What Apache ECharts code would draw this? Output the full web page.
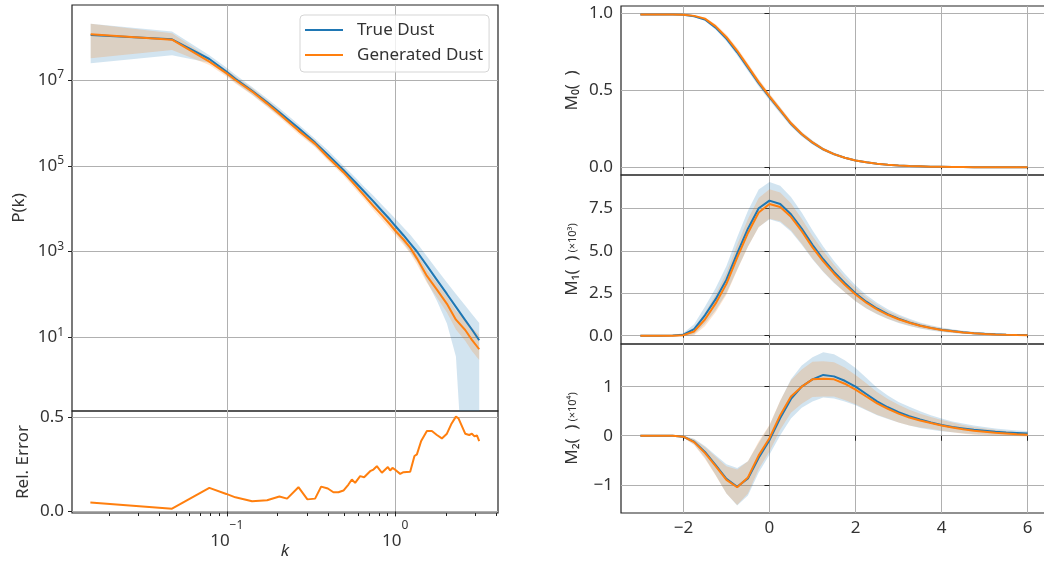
<!DOCTYPE html>
<html>
<head>
<meta charset="utf-8">
<title>Dust power spectrum and Minkowski functionals</title>
<script src="https://cdn.jsdelivr.net/npm/echarts@6/dist/echarts.min.js"></script>
<style>
  html, body { margin: 0; background: #fff; }
  #chart { width: 1044px; height: 562px; }
</style>
</head>
<body>
<div id="chart"></div>
<script>
/* global echarts */

const BLUE = "#1f77b4";
const ORANGE = "#ff7f0e";
const BLUE_FILL = "rgba(31,119,180,0.2)";
const ORANGE_FILL = "rgba(255,127,14,0.2)";
const GRID_COLOR = "#b0b0b0";
const SPINE_COLOR = "#222";
const TEXT_COLOR = "#333";
const FONT = "'Noto Sans', 'DejaVu Sans', sans-serif";

// power spectrum, k and log10 P(k)
const kValues = [0.01556, 0.0473, 0.0788, 0.0994, 0.1125, 0.1414, 0.1736, 0.2054, 0.2664, 0.3346,
  0.3982, 0.4929, 0.5785, 0.6542, 0.7431, 0.8338, 0.9339, 1.0, 1.12, 1.228,
  1.346, 1.543, 1.769, 2.029, 2.295, 2.606, 2.856, 3.156];
const truePkLog = [8.05, 7.95, 7.49, 7.2, 7.03, 6.75, 6.48, 6.25, 5.88, 5.54,
  5.26, 4.9, 4.62, 4.4, 4.17, 3.95, 3.74, 3.6, 3.38, 3.19,
  3.0, 2.67, 2.34, 2.01, 1.71, 1.4, 1.18, 0.93];
const truePkLoLog = [7.39, 7.58, 7.4, 7.11, 6.94, 6.66, 6.39, 6.16, 5.79, 5.45,
  5.17, 4.81, 4.52, 4.29, 4.05, 3.82, 3.59, 3.44, 3.2, 2.99,
  2.77, 2.3, 1.85, 1.32, 0.55, -3, -3, -3];
const truePkHiLog = [8.31, 8.13, 7.58, 7.29, 7.12, 6.84, 6.57, 6.34, 5.97, 5.63,
  5.36, 5.0, 4.73, 4.51, 4.3, 4.09, 3.89, 3.77, 3.56, 3.39,
  3.2, 2.89, 2.58, 2.28, 2.01, 1.74, 1.54, 1.33];
const genPkLog = [8.07, 7.94, 7.43, 7.16, 7.0, 6.73, 6.45, 6.21, 5.82, 5.51,
  5.2, 4.85, 4.55, 4.31, 4.06, 3.85, 3.63, 3.49, 3.28, 3.09,
  2.84, 2.43, 2.11, 1.78, 1.41, 1.17, 0.94, 0.72];
const genPkLoLog = [7.51, 7.7, 7.35, 7.08, 6.92, 6.65, 6.37, 6.13, 5.74, 5.43,
  5.12, 4.77, 4.46, 4.22, 3.96, 3.74, 3.52, 3.38, 3.16, 2.96,
  2.7, 2.27, 1.93, 1.58, 1.18, 0.92, 0.68, 0.47];
const genPkHiLog = [8.31, 8.09, 7.51, 7.24, 7.08, 6.81, 6.53, 6.29, 5.9, 5.59,
  5.28, 4.94, 4.64, 4.4, 4.16, 3.96, 3.74, 3.6, 3.4, 3.22,
  2.98, 2.57, 2.27, 1.96, 1.62, 1.42, 1.22, 1.05];

// relative error of the generated spectrum
const errK = [0.01549, 0.0473, 0.0788, 0.0994, 0.1125, 0.1414, 0.1736, 0.2054, 0.2282, 0.2345,
  0.2664, 0.3012, 0.3346, 0.3634, 0.3982, 0.4299, 0.4603, 0.4929, 0.5279, 0.553,
  0.5785, 0.6195, 0.6542, 0.7101, 0.7431, 0.7785, 0.8338, 0.9051, 0.9339, 0.9637,
  1.0, 1.071, 1.12, 1.228, 1.302, 1.346, 1.427, 1.543, 1.652, 1.769,
  1.894, 2.029, 2.151, 2.295, 2.377, 2.606, 2.753, 2.856, 2.959, 3.058, 3.156];
const relError = [0.048, 0.0145, 0.125, 0.093, 0.075, 0.054, 0.059, 0.079, 0.068, 0.064,
  0.129, 0.064, 0.068, 0.132, 0.122, 0.102, 0.102, 0.111, 0.143, 0.17,
  0.152, 0.188, 0.182, 0.214, 0.223, 0.241, 0.206, 0.236, 0.218, 0.232,
  0.222, 0.2, 0.209, 0.211, 0.295, 0.304, 0.375, 0.428, 0.428, 0.407,
  0.389, 0.414, 0.464, 0.505, 0.496, 0.414, 0.407, 0.414, 0.4, 0.405, 0.375];

const K_MAJOR = [0.1, 1];
const K_MINOR = [0.02, 0.03, 0.04, 0.05, 0.06, 0.07, 0.08, 0.09, 0.2, 0.3, 0.4, 0.5, 0.6, 0.7, 0.8, 0.9, 2, 3, 4];
const P_TICKS = [10, 1e3, 1e5, 1e7];

// Minkowski functionals against threshold
const threshold = [-3, -2.75, -2.5, -2.25, -2, -1.75, -1.5, -1.25, -1, -0.75, -0.5, -0.25, 0,
  0.25, 0.5, 0.75, 1, 1.25, 1.5, 1.75, 2, 2.25, 2.5, 2.75, 3, 3.25, 3.5, 3.75, 4,
  4.25, 4.5, 4.75, 5, 5.25, 5.5, 5.75, 6];
const m0True = [0.99, 0.99, 0.99, 0.99, 0.988, 0.978, 0.958, 0.905, 0.834, 0.745, 0.645, 0.545, 0.455,
  0.368, 0.282, 0.214, 0.16, 0.116, 0.085, 0.062, 0.044, 0.032, 0.023, 0.016, 0.011, 0.008, 0.006, 0.004, 0.003,
  0.002, 0.0015, 0.001, 0.001, 0.0007, 0.0005, 0.0004, 0.0003];
const m0Gen = [0.99, 0.99, 0.99, 0.99, 0.989, 0.981, 0.963, 0.913, 0.843, 0.755, 0.654, 0.552, 0.46,
  0.372, 0.285, 0.216, 0.161, 0.117, 0.085, 0.062, 0.044, 0.032, 0.023, 0.016, 0.011, 0.008, 0.006, 0.004, 0.003,
  0.002, 0.0015, 0.001, 0.001, 0.0007, 0.0005, 0.0004, 0.0003];
const m0TrueStd = [0, 0, 0, 0, 0.002, 0.005, 0.009, 0.014, 0.018, 0.02, 0.021, 0.021, 0.02,
  0.019, 0.017, 0.015, 0.013, 0.011, 0.009, 0.007, 0.006, 0.005, 0.004, 0.003, 0.002, 0.002, 0.0015, 0.001, 0.001,
  0.001, 0.001, 0.0005, 0.0005, 0.0005, 0.0005, 0.0005, 0.0005];
const m0GenStd = [0, 0, 0, 0, 0.002, 0.005, 0.008, 0.013, 0.017, 0.019, 0.02, 0.02, 0.019,
  0.018, 0.016, 0.014, 0.012, 0.01, 0.008, 0.007, 0.006, 0.005, 0.004, 0.003, 0.002, 0.002, 0.0015, 0.001, 0.001,
  0.001, 0.001, 0.0005, 0.0005, 0.0005, 0.0005, 0.0005, 0.0005];
const m1True = [0, 0, 0, 0.01, 0.06, 0.38, 1.2, 2.15, 3.3, 4.85, 6.3, 7.5, 7.95,
  7.75, 7.15, 6.3, 5.35, 4.5, 3.75, 3.1, 2.5, 2.0, 1.6, 1.27, 1.0, 0.78, 0.6, 0.46, 0.35,
  0.27, 0.2, 0.15, 0.11, 0.08, 0.06, 0.045, 0.035];
const m1Gen = [0, 0, 0, 0, 0.03, 0.25, 0.95, 1.9, 3.05, 4.6, 6.05, 7.25, 7.75,
  7.58, 7.0, 6.15, 5.2, 4.38, 3.65, 3.0, 2.42, 1.94, 1.55, 1.23, 0.97, 0.76, 0.58, 0.45, 0.34,
  0.26, 0.19, 0.14, 0.1, 0.075, 0.055, 0.04, 0.03];
const m1TrueStd = [0, 0, 0, 0.02, 0.1, 0.3, 0.5, 0.65, 0.8, 0.95, 1.05, 1.1, 1.1,
  1.08, 1.02, 0.95, 0.85, 0.75, 0.65, 0.55, 0.47, 0.4, 0.34, 0.29, 0.25, 0.21, 0.18, 0.15, 0.13,
  0.11, 0.09, 0.08, 0.07, 0.06, 0.05, 0.04, 0.035];
const m1GenStd = [0, 0, 0, 0.01, 0.06, 0.22, 0.4, 0.52, 0.64, 0.75, 0.82, 0.86, 0.87,
  0.85, 0.8, 0.74, 0.67, 0.6, 0.52, 0.44, 0.38, 0.32, 0.27, 0.23, 0.2, 0.17, 0.14, 0.12, 0.1,
  0.09, 0.07, 0.06, 0.05, 0.045, 0.04, 0.03, 0.03];
const m2True = [0, 0, 0, 0, -0.02, -0.12, -0.33, -0.6, -0.88, -1.04, -0.87, -0.45, -0.09,
  0.36, 0.75, 1.0, 1.15, 1.24, 1.21, 1.12, 1.0, 0.85, 0.7, 0.58, 0.48, 0.4, 0.33, 0.27, 0.22,
  0.18, 0.15, 0.12, 0.1, 0.08, 0.065, 0.055, 0.045];
const m2Gen = [0, 0, 0, 0, -0.02, -0.13, -0.35, -0.62, -0.9, -1.05, -0.85, -0.4, -0.05,
  0.42, 0.8, 1.0, 1.15, 1.16, 1.15, 1.06, 0.94, 0.8, 0.66, 0.55, 0.45, 0.37, 0.31, 0.26, 0.21,
  0.17, 0.13, 0.1, 0.08, 0.06, 0.045, 0.03, 0.02];
const m2TrueStd = [0, 0, 0, 0.005, 0.02, 0.06, 0.12, 0.2, 0.3, 0.38, 0.35, 0.3, 0.3,
  0.35, 0.4, 0.43, 0.45, 0.46, 0.45, 0.42, 0.38, 0.33, 0.28, 0.24, 0.21, 0.19, 0.17, 0.15, 0.13,
  0.11, 0.1, 0.09, 0.08, 0.07, 0.06, 0.05, 0.05];
const m2GenStd = [0, 0, 0, 0.005, 0.02, 0.06, 0.12, 0.19, 0.28, 0.36, 0.33, 0.28, 0.27,
  0.3, 0.33, 0.35, 0.36, 0.36, 0.35, 0.33, 0.3, 0.27, 0.23, 0.2, 0.18, 0.16, 0.14, 0.12, 0.11,
  0.1, 0.09, 0.08, 0.07, 0.06, 0.05, 0.04, 0.04];

function exponentText(value) {
  const exp = Math.round(Math.log10(value));
  return exp < 0 ? "\u2212" + Math.abs(exp) : String(exp);
}

// "10" with a raised exponent, drawn as rich text
function powLabel(value) {
  return "{b|10}{s|" + exponentText(value) + "}";
}

function signedLabel(digits) {
  return (value) => {
    const text = Math.abs(value).toFixed(digits);
    return value < 0 ? "\u2212" + text : text;
  };
}

function pow10(list) {
  return list.map((v) => Math.pow(10, v));
}

function plus(a, b, sign) {
  return a.map((v, i) => v + sign * b[i]);
}

function lineSeries(name, color, axisIndex, xs, ys) {
  return {
    name,
    type: "line",
    xAxisIndex: axisIndex[0],
    yAxisIndex: axisIndex[1],
    data: xs.map((x, i) => [x, ys[i]]),
    symbol: "none",
    showSymbol: false,
    clip: true,
    z: color === ORANGE ? 5 : 4,
    lineStyle: { color, width: 2 },
    itemStyle: { color },
  };
}

function bandSeries(fill, axisIndex, xs, lo, hi) {
  const data = xs.map((x, i) => [x, lo[i], hi[i]]);
  return {
    type: "custom",
    xAxisIndex: axisIndex[0],
    yAxisIndex: axisIndex[1],
    data,
    encode: { x: 0, y: [1, 2] },
    clip: true,
    silent: true,
    z: 2,
    renderItem(params, api) {
      if (params.dataIndex !== 0) {
        return null;
      }
      const upper = data.map((d) => api.coord([d[0], d[2]]));
      const lower = data.map((d) => api.coord([d[0], d[1]])).reverse();
      return {
        type: "polygon",
        shape: { points: upper.concat(lower) },
        style: { fill, stroke: null },
      };
    },
  };
}

const labelStyle = { color: TEXT_COLOR, fontSize: 17, fontFamily: FONT };
const splitStyle = { show: true, lineStyle: { color: GRID_COLOR, width: 1 } };
const tickStyle = { lineStyle: { color: SPINE_COLOR, width: 1 } };

function gridBox(left, top, height) {
  return {
    left, top, width: 426, height,
    outerBoundsMode: "none",
    containLabel: false,
    show: true,
    borderColor: SPINE_COLOR,
    borderWidth: 1.2,
    backgroundColor: "transparent",
  };
}

function thresholdAxis(gridIndex, withLabels) {
  return {
    gridIndex,
    type: "value",
    min: -3.45,
    max: 6.45,
    axisLine: { show: false },
    axisTick: { show: true, length: withLabels ? 5 : 2, customValues: [-2, 0, 2, 4, 6], ...tickStyle },
    axisLabel: { show: withLabels, customValues: [-2, 0, 2, 4, 6], formatter: signedLabel(0), margin: 7, ...labelStyle },
    splitLine: splitStyle,
  };
}

function mAxis(gridIndex, min, max, ticks, digits, name) {
  return {
    gridIndex,
    type: "value",
    min,
    max,
    axisLine: { show: false },
    axisTick: { show: true, length: 5, customValues: ticks, ...tickStyle },
    axisLabel: {
      customValues: ticks,
      formatter: signedLabel(digits),
      margin: 8,
      verticalAlignMinLabel: "middle",
      verticalAlignMaxLabel: "middle",
      ...labelStyle,
    },
    splitLine: splitStyle,
    name,
    nameLocation: "middle",
    nameGap: 40,
    nameRotate: 90,
    nameMoveOverlap: false,
    nameTextStyle: {
      color: TEXT_COLOR,
      fontFamily: FONT,
      rich: {
        a: { fontSize: 17, color: TEXT_COLOR, fontFamily: FONT },
        b: { fontSize: 11, color: TEXT_COLOR, fontFamily: FONT },
      },
    },
  };
}

const chart = echarts.init(document.getElementById("chart"), null, { renderer: "canvas" });

const option = {
  animation: false,
  textStyle: { fontFamily: FONT },
  grid: [
    gridBox(72, 5, 406),
    gridBox(72, 411, 102),
    gridBox(621, 6, 169),
    gridBox(621, 175, 169),
    gridBox(621, 344, 169),
  ],
  legend: {
    data: ["True Dust", "Generated Dust"],
    orient: "vertical",
    left: 300,
    top: 15,
    icon: "rect",
    itemWidth: 38,
    itemHeight: 2,
    itemGap: 5,
    padding: [5, 6, 7, 5],
    selectedMode: false,
    backgroundColor: "rgba(255,255,255,0.8)",
    borderColor: "#d5d5d5",
    borderWidth: 1,
    borderRadius: 4,
    textStyle: { ...labelStyle, lineHeight: 20, padding: [0, 0, 0, 9] },
  },
  xAxis: [
    {
      gridIndex: 0, type: "log", min: 0.01205, max: 4.08,
      axisLine: { show: false },
      axisTick: { show: false, customValues: K_MAJOR },
      axisLabel: { show: false, customValues: K_MAJOR },
      splitLine: splitStyle,
    },
    {
      gridIndex: 1, type: "log", min: 0.01205, max: 4.08, position: "bottom",
      axisLine: { show: false },
      axisTick: { show: true, length: 5, customValues: K_MAJOR, ...tickStyle },
      axisLabel: {
        customValues: K_MAJOR,
        formatter: powLabel,
        margin: 7,
        ...labelStyle,
        rich: {
          b: { fontSize: 17, lineHeight: 30, verticalAlign: "bottom", color: TEXT_COLOR, fontFamily: FONT },
          s: { fontSize: 12, lineHeight: 12, verticalAlign: "top", color: TEXT_COLOR, fontFamily: FONT },
        },
      },
      splitLine: splitStyle,
      name: "k",
      nameLocation: "middle",
      nameGap: 30,
      nameMoveOverlap: false,
      nameTextStyle: { ...labelStyle, fontStyle: "italic" },
    },
    {
      gridIndex: 1, type: "log", min: 0.01205, max: 4.08, position: "bottom",
      axisLine: { show: false },
      axisTick: { show: true, length: 3, customValues: K_MINOR, ...tickStyle },
      axisLabel: { show: false },
      splitLine: { show: false },
    },
    thresholdAxis(2, false),
    thresholdAxis(3, false),
    thresholdAxis(4, true),
  ],
  yAxis: [
    {
      gridIndex: 0, type: "log", min: 0.1905, max: 5.62e8,
      axisLine: { show: false },
      axisTick: { show: true, length: 4, customValues: P_TICKS, ...tickStyle },
      axisLabel: {
        customValues: P_TICKS,
        formatter: powLabel,
        margin: 8,
        ...labelStyle,
        rich: {
          b: { fontSize: 17, lineHeight: 22, verticalAlign: "middle", color: TEXT_COLOR, fontFamily: FONT },
          s: { fontSize: 12, lineHeight: 12, verticalAlign: "top", color: TEXT_COLOR, fontFamily: FONT },
        },
      },
      splitLine: splitStyle,
      name: "P(k)",
      nameLocation: "middle",
      nameGap: 44,
      nameMoveOverlap: false,
      nameTextStyle: labelStyle,
    },
    {
      gridIndex: 1, type: "value", min: -0.0086, max: 0.535,
      axisLine: { show: false },
      axisTick: { show: true, length: 4, customValues: [0, 0.5], ...tickStyle },
      axisLabel: {
        customValues: [0, 0.5],
        formatter: signedLabel(1),
        margin: 8,
        verticalAlignMinLabel: "middle",
        verticalAlignMaxLabel: "middle",
        ...labelStyle,
      },
      splitLine: splitStyle,
      name: "Rel. Error",
      nameLocation: "middle",
      nameGap: 40,
      nameMoveOverlap: false,
      nameTextStyle: labelStyle,
    },
    mAxis(2, -0.05, 1.045, [0, 0.5, 1], 1, "{a|M\u2080(\u2002)}"),
    mAxis(3, -0.49, 9.46, [0, 2.5, 5, 7.5], 1, "{a|M\u2081(\u2002)} {b|(\u00d710\u00b3)}"),
    mAxis(4, -1.575, 1.87, [-1, 0, 1], 0, "{a|M\u2082(\u2002)} {b|(\u00d710\u2074)}"),
  ],
  series: [
    bandSeries(BLUE_FILL, [0, 0], kValues, pow10(truePkLoLog), pow10(truePkHiLog)),
    bandSeries(ORANGE_FILL, [0, 0], kValues, pow10(genPkLoLog), pow10(genPkHiLog)),
    lineSeries("True Dust", BLUE, [0, 0], kValues, pow10(truePkLog)),
    lineSeries("Generated Dust", ORANGE, [0, 0], kValues, pow10(genPkLog)),
    lineSeries("Rel. Error", ORANGE, [1, 1], errK, relError),

    bandSeries(BLUE_FILL, [3, 2], threshold, plus(m0True, m0TrueStd, -1), plus(m0True, m0TrueStd, 1)),
    bandSeries(ORANGE_FILL, [3, 2], threshold, plus(m0Gen, m0GenStd, -1), plus(m0Gen, m0GenStd, 1)),
    lineSeries("True Dust", BLUE, [3, 2], threshold, m0True),
    lineSeries("Generated Dust", ORANGE, [3, 2], threshold, m0Gen),

    bandSeries(BLUE_FILL, [4, 3], threshold, plus(m1True, m1TrueStd, -1), plus(m1True, m1TrueStd, 1)),
    bandSeries(ORANGE_FILL, [4, 3], threshold, plus(m1Gen, m1GenStd, -1), plus(m1Gen, m1GenStd, 1)),
    lineSeries("True Dust", BLUE, [4, 3], threshold, m1True),
    lineSeries("Generated Dust", ORANGE, [4, 3], threshold, m1Gen),

    bandSeries(BLUE_FILL, [5, 4], threshold, plus(m2True, m2TrueStd, -1), plus(m2True, m2TrueStd, 1)),
    bandSeries(ORANGE_FILL, [5, 4], threshold, plus(m2Gen, m2GenStd, -1), plus(m2Gen, m2GenStd, 1)),
    lineSeries("True Dust", BLUE, [5, 4], threshold, m2True),
    lineSeries("Generated Dust", ORANGE, [5, 4], threshold, m2Gen),
  ],
};

chart.setOption(option);
</script>
</body>
</html>
